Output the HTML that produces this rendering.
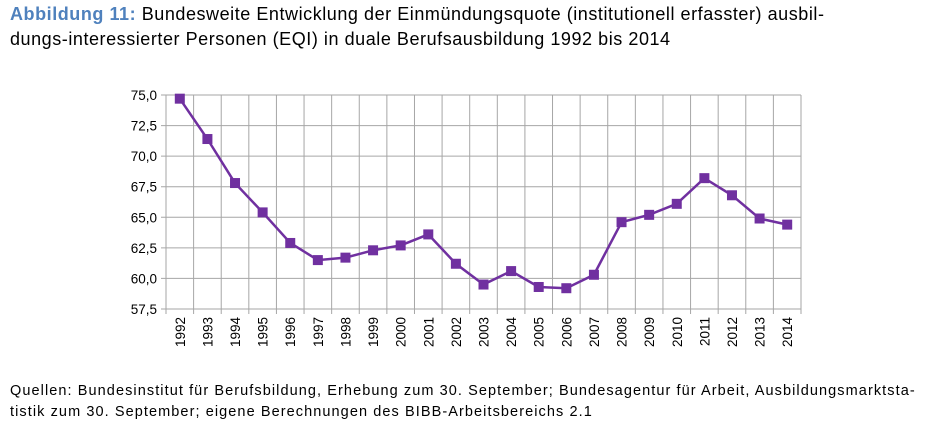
<!DOCTYPE html>
<html><head><meta charset="utf-8"><style>
body{margin:0;width:932px;height:437px;background:#fff;font-family:"Liberation Sans",sans-serif;overflow:hidden;position:relative}
#title{position:absolute;left:10px;top:2px;font-size:18px;letter-spacing:0.55px;line-height:25px;color:#000;width:925px;white-space:nowrap}
#title b{color:#4f81bd}
#src{position:absolute;left:10px;top:381px;font-size:14.5px;letter-spacing:1.08px;line-height:21px;color:#000;white-space:nowrap}
svg{position:absolute;left:0;top:0}
</style></head><body>
<div id="title"><b>Abbildung 11:</b> Bundesweite Entwicklung der Einmündungsquote (institutionell erfasster) ausbil-<br>dungs-interessierter Personen (EQI) in duale Berufsausbildung 1992 bis 2014</div>
<svg id="chart" width="932" height="437"></svg>
<div id="src">Quellen: Bundesinstitut für Berufsbildung, Erhebung zum 30. September; Bundesagentur für Arbeit, Ausbildungsmarktsta-<br>tistik zum 30. September; eigene Berechnungen des BIBB-Arbeitsbereichs 2.1</div>
<script>
const years=["1992","1993","1994","1995","1996","1997","1998","1999","2000","2001","2002","2003","2004","2005","2006","2007","2008","2009","2010","2011","2012","2013","2014"];
const eqi=[74.7,71.4,67.8,65.4,62.9,61.5,61.7,62.3,62.7,63.6,61.2,59.5,60.6,59.3,59.2,60.3,64.6,65.2,66.1,68.2,66.8,64.9,64.4];
const yTicks=[57.5,60,62.5,65,67.5,70,72.5,75];
const yTickLabels=["57,5","60,0","62,5","65,0","67,5","70,0","72,5","75,0"];
const L=166,R=801,T=95,B=309,ymin=57.5,ymax=75;
const band=(R-L)/years.length;
const x=i=>L+band*(i+0.5);
const y=v=>B-(v-ymin)/(ymax-ymin)*(B-T);
const svg=document.getElementById('chart');
const NS='http://www.w3.org/2000/svg';
function mk(t,a){const e=document.createElementNS(NS,t);for(const k in a)e.setAttribute(k,a[k]);svg.appendChild(e);return e;}
yTicks.forEach((v,i)=>{
 const l=mk('line',{x1:L-5,x2:R,y1:y(v),y2:y(v),stroke:'#a6a6a6','stroke-width':1});
 
 
 const t=mk('text',{x:L-9,y:y(v)+5,'text-anchor':'end','font-size':'13.5','font-family':'Liberation Sans, sans-serif'});
 t.textContent=yTickLabels[i];
 
 
});
for(let i=0;i<=years.length;i++){
 const xx=L+band*i;
 const l=mk('line',{x1:xx,x2:xx,y1:T,y2:B+5,stroke:'#a6a6a6','stroke-width':1});
 
 
}
years.forEach((yr,i)=>{
 const t=mk('text',{transform:`translate(${x(i)+5},${B+8}) rotate(-90)`,'text-anchor':'end','font-size':'13.5','font-family':'Liberation Sans, sans-serif'});
 t.textContent=yr;
 
 
});
const p=mk('polyline',{points:eqi.map((v,i)=>x(i)+','+y(v)).join(' '),fill:'none',stroke:'#7030a0','stroke-width':2.5});


eqi.forEach((v,i)=>{
 const r=mk('rect',{x:x(i)-5,y:y(v)-5,width:10,height:10,fill:'#7030a0'});
 
 
});
</script>
</body></html>
